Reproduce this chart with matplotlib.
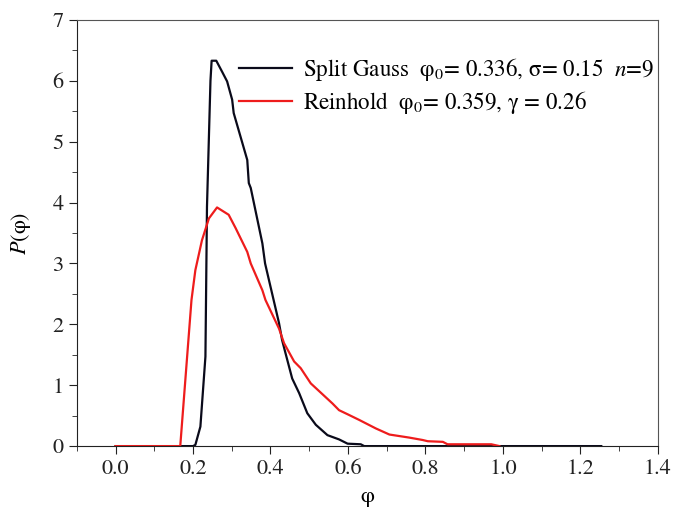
import matplotlib
matplotlib.use('Agg')
import matplotlib.pyplot as plt
from matplotlib.ticker import MultipleLocator

plt.rcParams['font.family'] = ['STIXGeneral', 'Liberation Serif', 'DejaVu Serif']
plt.rcParams['mathtext.fontset'] = 'stix'

# Split Gauss curve
phi_sg = [0.0, 0.10, 0.20, 0.206, 0.219, 0.232, 0.236, 0.245, 0.248, 0.260, 0.275, 0.288,
          0.301, 0.305, 0.340, 0.344, 0.349, 0.379, 0.386, 0.422, 0.430, 0.439, 0.456,
          0.474, 0.495, 0.517, 0.547, 0.577, 0.599, 0.633, 0.642, 0.80, 1.0, 1.254]
p_sg = [0.0, 0.0, 0.0, 0.02, 0.32, 1.47, 3.93, 6.0, 6.33, 6.33, 6.15, 5.99,
        5.69, 5.47, 4.70, 4.32, 4.24, 3.33, 3.0, 2.02, 1.74, 1.52, 1.11,
        0.87, 0.54, 0.35, 0.18, 0.11, 0.04, 0.03, 0.0, 0.0, 0.0, 0.0]

# Reinhold curve
phi_rh = [0.0, 0.10, 0.167, 0.196, 0.206, 0.223, 0.241, 0.262, 0.292, 0.310, 0.340,
          0.349, 0.379, 0.387, 0.422, 0.435, 0.461, 0.478, 0.504, 0.560, 0.577,
          0.600, 0.629, 0.672, 0.707, 0.758, 0.793, 0.806, 0.845, 0.857, 0.970, 0.991]
p_rh = [0.0, 0.0, 0.0, 2.40, 2.89, 3.38, 3.74, 3.92, 3.80, 3.58, 3.19,
        3.0, 2.56, 2.40, 1.93, 1.69, 1.39, 1.28, 1.03, 0.70, 0.59,
        0.52, 0.43, 0.29, 0.19, 0.14, 0.10, 0.08, 0.07, 0.03, 0.03, 0.0]

lab_sg = 'Split Gauss  φ$_0$= 0.336, σ= 0.15  $n$=9'
lab_rh = 'Reinhold  φ$_0$= 0.359, γ = 0.26'

fig = plt.figure(figsize=(6.74, 5.11), dpi=100)
ax = fig.add_axes([0.114, 0.127, 0.862, 0.834])

ax.plot(phi_sg, p_sg, color='#0a0a1a', lw=1.6, label=lab_sg)
ax.plot(phi_rh, p_rh, color='#ee1c1c', lw=1.6, label=lab_rh)

ax.set_xlim(-0.1, 1.4)
ax.set_ylim(0, 7)
ax.xaxis.set_major_locator(MultipleLocator(0.2))
ax.xaxis.set_minor_locator(MultipleLocator(0.1))
ax.yaxis.set_major_locator(MultipleLocator(1))
ax.yaxis.set_minor_locator(MultipleLocator(0.5))
ax.xaxis.set_major_formatter(plt.FormatStrFormatter('%.1f'))
ax.tick_params(which='both', direction='out', labelsize=16, colors='#222222')
ax.tick_params(which='major', length=6)
ax.tick_params(which='minor', length=3.5)
for s in ax.spines.values():
    s.set_color('#555555')
ax.spines['left'].set_color('#222222')
ax.spines['bottom'].set_color('#222222')

ax.set_xlabel('φ', fontsize=16, labelpad=6)
ax.set_ylabel('$P$(φ)', fontsize=16, labelpad=14)

ax.legend(loc='upper right', bbox_to_anchor=(1.01, 0.937), frameon=False, fontsize=16.6,
          handlelength=2.3, handletextpad=0.5, labelspacing=0.25, borderaxespad=0)

fig.savefig('out.png', dpi=100)
